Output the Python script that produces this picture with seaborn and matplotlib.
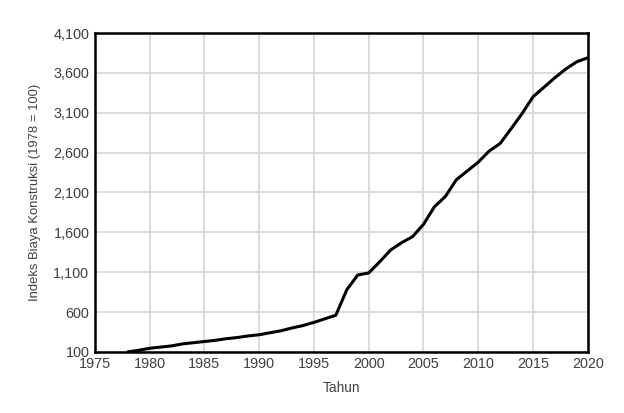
import matplotlib as mpl
import matplotlib.pyplot as plt
import matplotlib.ticker as mticker
import seaborn as sns
import pandas as pd

mpl.use("Agg")

years = list(range(1978, 2021))
index_values = [
    100, 120, 145, 160, 175, 200, 215, 230, 245, 265,
    280, 300, 315, 340, 365, 400, 430, 470, 515, 560,
    880, 1065, 1090, 1230, 1378, 1470, 1545, 1700, 1921, 2050,
    2260, 2370, 2480, 2620, 2715, 2900, 3090, 3300, 3420, 3540,
    3650, 3740, 3790,
]
x_ticks = list(range(1975, 2021, 5))
y_ticks = list(range(100, 4101, 500))

df = pd.DataFrame({"Tahun": years, "Indeks": index_values})

sns.set_style("white")
plt.rcParams["font.family"] = ["Liberation Sans", "DejaVu Sans"]

fig = plt.figure(figsize=(6.24, 4.13), dpi=100)
ax = fig.add_axes([0.152, 0.148, 0.790, 0.772])

sns.lineplot(data=df, x="Tahun", y="Indeks", ax=ax, color="black", linewidth=2.2)

ax.set_xlim(1975, 2020)
ax.set_ylim(100, 4100)
ax.set_xticks(x_ticks)
ax.set_yticks(y_ticks)
ax.yaxis.set_major_formatter(mticker.FuncFormatter(lambda v, p: f"{int(v):,}"))
ax.grid(True, color="#d9d9d9", linewidth=1.3)
ax.set_axisbelow(True)
for s in ax.spines.values():
    s.set_visible(True)
    s.set_color("black")
    s.set_linewidth(1.8)
ax.tick_params(axis="both", length=0, labelsize=10.4, colors="#404040", pad=4)
ax.set_xlabel("Tahun", fontsize=9.8, color="#404040", labelpad=7)
ax.set_ylabel("Indeks Biaya Konstruksi (1978 = 100)", fontsize=9.4, color="#404040", labelpad=9)

fig.savefig("out.png", dpi=100)
